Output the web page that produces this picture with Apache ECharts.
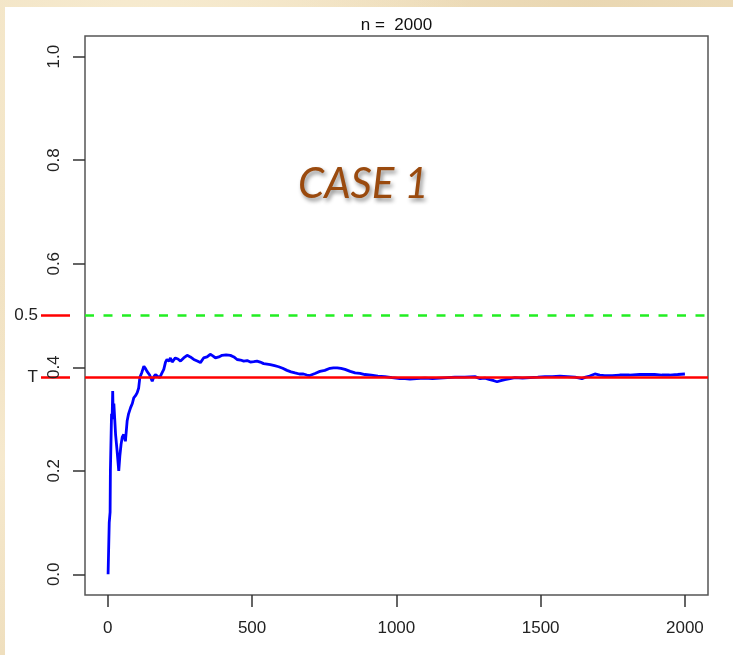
<!DOCTYPE html>
<html>
<head>
<meta charset="utf-8">
<title>CASE 1</title>
<script src="https://cdn.jsdelivr.net/npm/echarts@6/dist/echarts.min.js"></script>
<style>
    html, body { margin: 0; padding: 0; }
    body {
        width: 733px; height: 655px; overflow: hidden;
        background-color: #efdfbe;
        background-image:
            radial-gradient(ellipse at 20% 10%, rgba(250,240,215,0.8), rgba(250,240,215,0) 40%),
            radial-gradient(ellipse at 80% 0%, rgba(230,210,170,0.6), rgba(230,210,170,0) 35%),
            radial-gradient(ellipse at 0% 70%, rgba(248,236,210,0.8), rgba(248,236,210,0) 30%);
    }
    #main { position: absolute; left: 5px; top: 7px; width: 728px; height: 648px; background: #fff; }
</style>
</head>
<body>
<div id="main"></div>
<script>
// running proportion
var trialN = [1, 4, 5, 6, 8, 9, 11, 13, 15, 17, 19, 21, 24, 27, 32, 38, 42, 46, 50, 55, 61, 67, 72, 79, 85, 90, 96, 102, 107, 111, 118, 125, 130, 136, 145, 154, 160, 165, 172, 180, 187, 194, 200, 205, 212, 217, 223, 234, 243, 252, 263, 275, 286, 298, 310, 321, 332, 344, 355, 364, 373, 385, 396, 410, 425, 437, 448, 460, 471, 483, 494, 506, 517, 528, 540, 552, 563, 578, 592, 606, 621, 635, 649, 664, 678, 690, 700, 718, 735, 752, 770, 782, 795, 808, 822, 840, 857, 874, 891, 913, 936, 960, 985, 1012, 1030, 1047, 1070, 1099, 1125, 1151, 1177, 1203, 1237, 1272, 1290, 1307, 1324, 1338, 1349, 1362, 1376, 1394, 1411, 1437, 1463, 1490, 1515, 1540, 1567, 1593, 1619, 1643, 1656, 1670, 1688, 1705, 1722, 1748, 1774, 1808, 1843, 1870, 1895, 1920, 1947, 1975, 2000];
var proportion = [0, 0, 0.1, 0.1, 0.12, 0.2, 0.2, 0.31, 0.3, 0.354, 0.3, 0.33, 0.3, 0.27, 0.24, 0.2, 0.23, 0.251, 0.265, 0.27, 0.257, 0.296, 0.31, 0.322, 0.33, 0.341, 0.345, 0.351, 0.36, 0.38, 0.39, 0.402, 0.398, 0.392, 0.385, 0.373, 0.382, 0.386, 0.383, 0.38, 0.388, 0.396, 0.41, 0.415, 0.412, 0.418, 0.41, 0.418, 0.416, 0.412, 0.418, 0.423, 0.42, 0.415, 0.412, 0.409, 0.418, 0.42, 0.425, 0.422, 0.418, 0.42, 0.423, 0.424, 0.423, 0.42, 0.415, 0.414, 0.412, 0.413, 0.41, 0.411, 0.412, 0.41, 0.407, 0.406, 0.405, 0.403, 0.401, 0.398, 0.394, 0.391, 0.389, 0.387, 0.387, 0.385, 0.384, 0.388, 0.392, 0.394, 0.398, 0.399, 0.399, 0.398, 0.396, 0.392, 0.389, 0.388, 0.386, 0.385, 0.383, 0.382, 0.38, 0.378, 0.378, 0.377, 0.378, 0.379, 0.378, 0.379, 0.38, 0.381, 0.381, 0.382, 0.378, 0.379, 0.376, 0.374, 0.372, 0.374, 0.376, 0.378, 0.38, 0.379, 0.38, 0.381, 0.382, 0.382, 0.383, 0.382, 0.381, 0.378, 0.381, 0.383, 0.387, 0.385, 0.384, 0.384, 0.385, 0.385, 0.386, 0.386, 0.386, 0.385, 0.385, 0.386, 0.387];

var xTicks = [0, 500, 1000, 1500, 2000];
var yTicks = [0, 0.2, 0.4, 0.6, 0.8, 1.0];
var T_VALUE = 0.38;
var HALF = 0.5;
var titleText = 'n =  2000';

var FONT = '"Liberation Sans", Arial, sans-serif';

var lineData = [];
for (var i = 0; i < trialN.length; i++) {
    lineData.push([trialN[i], proportion[i]]);
}

var dom = document.getElementById("main");
var myChart = echarts.init(dom, null, { renderer: 'canvas' });
var option = {
    animation: false,
    backgroundColor: 'transparent',
    grid: {
        left: 80, top: 29, right: 25, bottom: 60,
        show: true, borderColor: '#555', borderWidth: 1.5,
        backgroundColor: 'transparent'
    },
    xAxis: {
        type: 'value', min: -79, max: 2080,
        splitLine: { show: false },
        axisLine: { show: false, onZero: false },
        axisTick: { show: true, inside: false, length: 12, customValues: xTicks, lineStyle: { color: '#333', width: 1.5 } },
        axisLabel: {
            customValues: xTicks, margin: 25, fontSize: 17, color: '#222', fontFamily: FONT,
            formatter: function (v) { return String(v); }
        }
    },
    yAxis: [{
        type: 'value', min: -0.04, max: 1.04, position: 'left',
        splitLine: { show: false },
        axisLine: { show: false, onZero: false },
        axisTick: { show: true, inside: false, length: 12, customValues: yTicks, lineStyle: { color: '#333', width: 1.5 } },
        axisLabel: {
            customValues: yTicks, rotate: 90, margin: 22, fontSize: 17, color: '#222', fontFamily: FONT,
            formatter: function (v) { return v.toFixed(1); }
        }
    }, {
        // T and 0.5 marks in the left margin
        type: 'value', min: -0.04, max: 1.04, position: 'left', offset: 15,
        splitLine: { show: false },
        axisLine: { show: false, onZero: false },
        axisTick: { show: true, inside: false, length: 29, customValues: [T_VALUE, HALF], lineStyle: { color: '#ff0000', width: 2.5 } },
        axisLabel: {
            customValues: [T_VALUE, HALF], margin: 32, fontSize: 17, color: '#222', fontFamily: FONT,
            formatter: function (v) { return v === HALF ? '0.5' : 'T'; }
        }
    }],
    graphic: [{
        type: 'text',
        style: { text: titleText, x: 391.5, y: 18.5, align: 'center', verticalAlign: 'middle', font: '17px ' + FONT, fill: '#111' }
    }, {
        type: 'text',
        style: {
            text: 'CASE 1', x: 293, y: 177, align: 'left', verticalAlign: 'middle',
            font: 'italic 42px Lato, "Open Sans", sans-serif', fill: '#9a4a0e',
            textShadowColor: 'rgba(0,0,0,0.45)', textShadowBlur: 4, textShadowOffsetX: 2, textShadowOffsetY: 3,
            shadowColor: 'rgba(0,0,0,0.45)', shadowBlur: 4, shadowOffsetX: 2, shadowOffsetY: 3
        }
    }],
    series: [{
        type: 'line',
        data: lineData,
        showSymbol: false,
        lineStyle: { color: '#0000ff', width: 2.8 },
        z: 2
    }, {
        type: 'line',
        data: [],
        z: 4,
        markLine: {
            silent: true, symbol: 'none', label: { show: false },
            data: [
                { yAxis: T_VALUE, lineStyle: { color: '#ff0000', width: 2.5, type: 'solid' } },
                { yAxis: HALF, lineStyle: { color: '#22ee22', width: 2.5, type: [9, 9.5] } }
            ]
        }
    }]
};

if (option && typeof option === "object") {
    myChart.setOption(option, true);
}
</script>
</body>
</html>
